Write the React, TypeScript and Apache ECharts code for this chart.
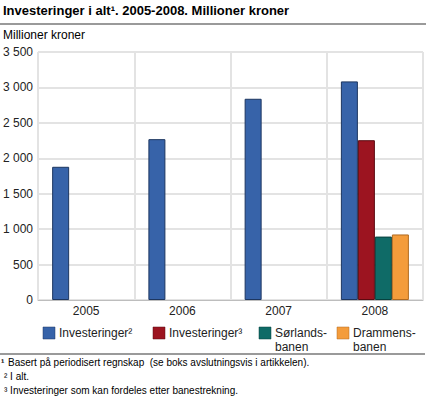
import React, { useEffect, useRef } from "react";
import * as echarts from "echarts";

const categories = ["2005", "2006", "2007", "2008"];
const investeringerAlt = [1880, 2270, 2840, 3085];
const investeringerBane = [null, null, null, 2255];
const sorlandsbanen = [null, null, null, 895];
const drammensbanen = [null, null, null, 925];
const yTicks = [0, 500, 1000, 1500, 2000, 2500, 3000, 3500];

const seriesNames = ["Investeringer²", "Investeringer³", "Sørlands-\nbanen", "Drammens-\nbanen"];
const colors = ["#3763a9", "#9c1420", "#0f6b67", "#f49c3b"];
const borders = ["#1d3660", "#5a0a10", "#07413e", "#b06a20"];

const FONT = "'Liberation Sans', Arial, sans-serif";

export default function App() {
  const ref = useRef<HTMLDivElement>(null);
  useEffect(() => {
    if (!ref.current) return;
    const chart = echarts.init(ref.current, null, { renderer: "svg" });
    const fmt = (v: number) => {
      const s = String(v);
      return s.length > 3 ? s.slice(0, s.length - 3) + " " + s.slice(-3) : s;
    };
    const datasets = [investeringerAlt, investeringerBane, sorlandsbanen, drammensbanen];
    const legendX = [43, 153, 259, 337];
    const graphic: any[] = [
      {
        type: "text",
        x: 3,
        y: 4,
        style: {
          text: "Investeringer i alt¹. 2005-2008. Millioner kroner",
          font: `bold 13px ${FONT}`,
          fill: "#000",
        },
      },
      {
        type: "line",
        shape: { x1: 0, y1: 24, x2: 426, y2: 24 },
        style: { stroke: "#9a9a9a", lineWidth: 2 },
      },
      {
        type: "text",
        x: 3,
        y: 29,
        style: { text: "Millioner kroner", font: `12px ${FONT}`, fill: "#000" },
      },
      {
        type: "line",
        shape: { x1: 0, y1: 354, x2: 425, y2: 354 },
        style: { stroke: "#9a9a9a", lineWidth: 2 },
      },
      {
        type: "text",
        x: 1,
        y: 357,
        style: { text: "¹", font: `bold 10px ${FONT}`, fill: "#000" },
      },
      {
        type: "text",
        x: 8,
        y: 357,
        style: {
          text: "Basert på periodisert regnskap  (se boks avslutningsvis i artikkelen).",
          font: `10px ${FONT}`,
          fill: "#000",
        },
      },
      {
        type: "text",
        x: 4,
        y: 371,
        style: { text: "² I alt.", font: `10px ${FONT}`, fill: "#000" },
      },
      {
        type: "text",
        x: 4,
        y: 385,
        style: {
          text: "³ Investeringer som kan fordeles etter banestrekning.",
          font: `10px ${FONT}`,
          fill: "#000",
        },
      },
    ];
    seriesNames.forEach((name, i) => {
      graphic.push({
        type: "rect",
        shape: { x: legendX[i], y: 327, width: 12, height: 12 },
        style: { fill: colors[i], stroke: borders[i], lineWidth: 0.5 },
      });
      graphic.push({
        type: "text",
        x: legendX[i] + 16,
        y: 326,
        style: {
          text: name,
          font: `12px ${FONT}`,
          lineHeight: 14,
          fill: "#222",
        },
      });
    });

    chart.setOption({
      animation: false,
      grid: { left: 36, right: 3, top: 52, bottom: 99, containLabel: false },
      xAxis: {
        type: "category",
        data: categories,
        axisLine: { show: true, lineStyle: { color: "#bdbdbd", width: 1 } },
        axisTick: { show: false },
        axisLabel: { color: "#222", fontSize: 12, fontFamily: FONT, margin: 5 },
        splitLine: { show: true, interval: 0, lineStyle: { color: "#e3e3e3", width: 2 } },
      },
      yAxis: {
        type: "value",
        min: 0,
        max: 3500,
        interval: 500,
        axisLine: { show: false },
        axisTick: { show: false },
        axisLabel: {
          color: "#222",
          fontSize: 12,
          fontFamily: FONT,
          margin: 5,
          formatter: (v: number) => (yTicks.includes(v) ? fmt(v) : ""),
        },
        splitLine: { show: true, lineStyle: { color: "#e3e3e3", width: 2 } },
      },
      series: datasets.map((d, i) => ({
        type: "bar",
        name: seriesNames[i],
        data: d,
        barWidth: 17,
        barGap: "0%",
        itemStyle: { color: colors[i], borderColor: borders[i], borderWidth: 1 },
      })),
      graphic,
    });
    return () => chart.dispose();
  }, []);
  return (
    <div
      ref={ref}
      style={{ position: "fixed", left: 0, top: 0, width: 426, height: 399, background: "#fff" }}
    />
  );
}
